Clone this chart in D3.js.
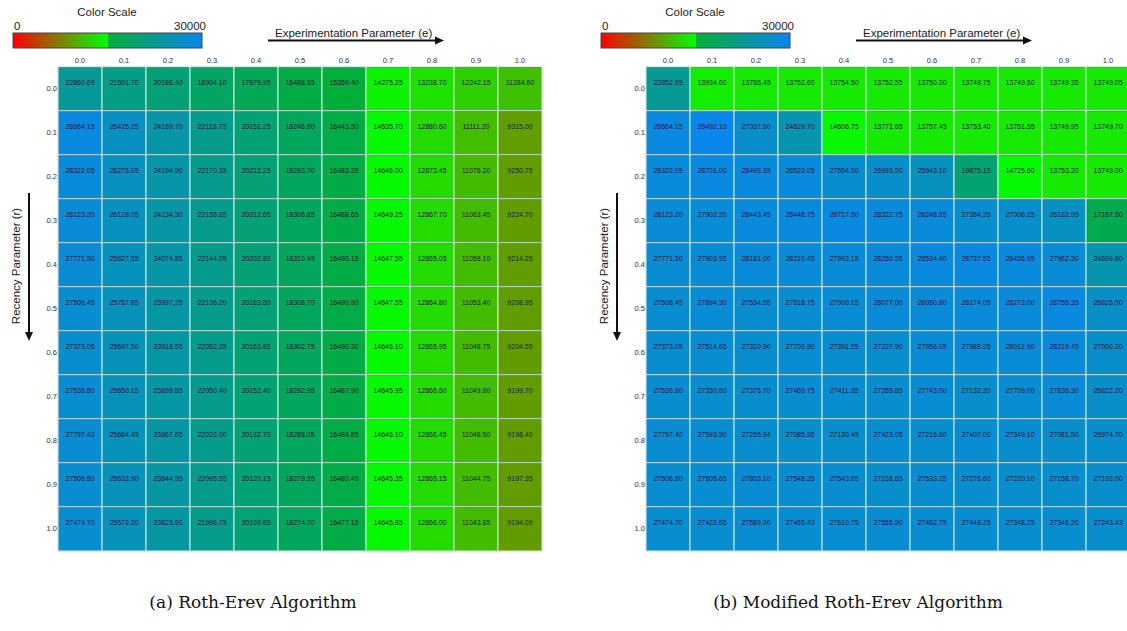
<!DOCTYPE html>
<html>
<head>
<meta charset="utf-8">
<script src="https://cdn.jsdelivr.net/npm/d3@7"></script>
<style>
  body { margin: 0; background: #fff; }
  svg { display: block; font-family: "Liberation Sans", Arial, sans-serif; }
  .axis .domain { display: none; }
</style>
</head>
<body>
<svg id="chart" width="1127" height="631"></svg>
<script>
// experimentation parameter (columns) and recency parameter (rows)
const eLabels = ['0.0', '0.1', '0.2', '0.3', '0.4', '0.5', '0.6', '0.7', '0.8', '0.9', '1.0'];
const rLabels = ['0.0', '0.1', '0.2', '0.3', '0.4', '0.5', '0.6', '0.7', '0.8', '0.9', '1.0'];

// (a) Roth-Erev, one array per row of r
const rothErev = [
  [22860.69, 21501.70, 20186.40, 18904.10, 17679.95, 16488.65, 15359.40, 14275.25, 13238.70, 12242.15, 11284.60],
  [28664.15, 26425.25, 24169.70, 22118.75, 20151.25, 18246.60, 16443.50, 14635.70, 12880.60, 11111.20, 9315.00],
  [28322.05, 26276.05, 24194.90, 22170.35, 20212.25, 18293.70, 16483.35, 14646.00, 12873.45, 11076.20, 9250.75],
  [28123.20, 26129.05, 24134.30, 22155.85, 20212.65, 18306.85, 16488.65, 14649.25, 12867.70, 11063.45, 9224.70],
  [27771.50, 25927.55, 24074.85, 22144.05, 20202.80, 18310.45, 16490.15, 14647.55, 12865.05, 11058.10, 9214.25],
  [27506.45, 25787.85, 23997.25, 22106.20, 20183.80, 18308.70, 16490.80, 14647.55, 12864.80, 11053.40, 9208.95],
  [27373.05, 25697.50, 23918.55, 22052.35, 20163.85, 18302.75, 16490.30, 14646.10, 12865.95, 11048.75, 9204.55],
  [27536.80, 25650.15, 23899.85, 22050.40, 20152.40, 18292.95, 16487.90, 14645.95, 12866.60, 11049.80, 9199.70],
  [27797.40, 25664.45, 23867.65, 22022.00, 20132.70, 18288.05, 16484.85, 14646.10, 12866.45, 11048.50, 9198.40],
  [27506.80, 25633.90, 23844.95, 22095.55, 20120.15, 18279.55, 16480.45, 14645.35, 12865.15, 11044.75, 9197.35],
  [27474.70, 25572.20, 23823.60, 21996.75, 20109.85, 18274.70, 16477.15, 14645.85, 12866.00, 11043.85, 9194.09]
];

// (b) Modified Roth-Erev
const modifiedRothErev = [
  [22852.65, 13934.60, 13786.45, 13762.60, 13754.50, 13752.55, 13750.00, 13749.75, 13749.60, 13749.35, 13749.05],
  [28664.15, 29492.10, 27037.60, 24829.70, 14606.75, 13771.65, 13757.45, 13753.40, 13751.55, 13749.95, 13749.70],
  [28322.05, 28701.00, 28499.35, 28520.05, 27554.50, 26993.50, 25943.10, 19875.15, 14725.60, 13753.20, 13749.00],
  [28123.20, 27902.20, 28443.45, 28448.75, 28717.50, 28322.75, 28248.65, 27364.35, 27006.25, 26182.95, 17167.60],
  [27771.50, 27903.95, 28181.00, 28210.45, 27993.15, 28250.55, 28534.40, 28737.55, 28436.95, 27962.30, 24609.80],
  [27506.45, 27894.30, 27534.55, 27618.75, 27900.15, 28077.00, 28050.80, 28174.05, 28273.00, 28755.35, 26826.00],
  [27373.05, 27514.65, 27310.90, 27700.90, 27391.55, 27227.90, 27956.05, 27988.05, 28012.90, 28219.45, 27000.20],
  [27536.80, 27330.60, 27376.70, 27469.75, 27411.35, 27355.85, 27743.00, 27132.20, 27709.00, 27836.30, 26822.20],
  [27797.40, 27593.90, 27265.94, 27085.95, 27130.45, 27423.05, 27216.60, 27407.00, 27349.10, 27081.50, 26974.70],
  [27506.60, 27605.65, 27803.10, 27548.35, 27543.65, 27238.85, 27533.25, 27276.60, 27220.10, 27158.70, 27103.00],
  [27474.70, 27422.65, 27589.00, 27465.40, 27610.75, 27655.90, 27462.75, 27449.25, 27348.25, 27346.20, 27243.43]
];

const scaleStops = [0, 15000, 15000.01, 30000];
const scaleColors = ['#ff0000', '#00ff00', '#00b034', '#0a86f0'];
const scaleLabels = ['0', '30000'];
const captions = ['(a) Roth-Erev Algorithm', '(b) Modified Roth-Erev Algorithm'];

const color = d3.scaleLinear().domain(scaleStops).range(scaleColors);

const svg = d3.select('#chart');

// gradient for the colour bar
const grad = svg.append('defs').append('linearGradient').attr('id', 'cbar');
grad.selectAll('stop')
  .data(scaleStops)
  .enter()
  .append('stop')
  .attr('offset', d => d / 30000)
  .attr('stop-color', d => color(d));

function drawPanel(values, dx, caption, capX) {
  const g = svg.append('g').attr('transform', `translate(${dx},0)`);

  const x = d3.scaleBand().domain(eLabels).range([58, 542]);
  const y = d3.scaleBand().domain(rLabels).range([67, 551]);

  // colour scale legend
  g.append('text').attr('x', 107).attr('y', 16).attr('text-anchor', 'middle')
    .attr('font-size', 11.5).attr('fill', '#222').text('Color Scale');
  const cb = d3.scaleLinear().domain([0, 30000]).range([13, 202]);
  g.append('rect').attr('x', cb(0)).attr('y', 33).attr('width', cb(30000) - cb(0)).attr('height', 15)
    .attr('fill', 'url(#cbar)').attr('stroke', '#444').attr('stroke-width', 1);
  g.append('text').attr('x', cb(0) + 1).attr('y', 30).attr('font-size', 11.5).attr('fill', '#222').text(scaleLabels[0]);
  g.append('text').attr('x', cb(30000) + 4).attr('y', 30).attr('text-anchor', 'end')
    .attr('font-size', 11.5).attr('fill', '#222').text(scaleLabels[1]);

  // axis titles with arrows
  g.append('text').attr('x', 275).attr('y', 37).attr('font-size', 11.5).attr('fill', '#222')
    .text('Experimentation Parameter (e)');
  g.append('line').attr('x1', 268).attr('x2', 437).attr('y1', 40.5).attr('y2', 40.5)
    .attr('stroke', '#111').attr('stroke-width', 2);
  g.append('path').attr('d', 'M444,40.5 L435,36.5 L435,44.5 Z').attr('fill', '#111');

  g.append('text').attr('transform', 'translate(20,266) rotate(-90)').attr('text-anchor', 'middle')
    .attr('font-size', 11.5).attr('fill', '#222').text('Recency Parameter (r)');
  g.append('line').attr('x1', 29).attr('x2', 29).attr('y1', 193).attr('y2', 333)
    .attr('stroke', '#111').attr('stroke-width', 2);
  g.append('path').attr('d', 'M29,341 L25,332 L33,332 Z').attr('fill', '#111');

  // tick labels
  g.append('g').attr('class', 'axis').attr('transform', 'translate(0,67)')
    .call(d3.axisTop(x).tickSize(0).tickPadding(4))
    .selectAll('text').attr('font-size', 7.5).attr('fill', '#333');
  g.append('g').attr('class', 'axis').attr('transform', 'translate(58,0)')
    .call(d3.axisLeft(y).tickSize(0).tickPadding(1))
    .selectAll('text').attr('font-size', 7.5).attr('fill', '#333');

  // cells
  const cells = values.flatMap((row, i) => row.map((v, j) => ({ r: rLabels[i], e: eLabels[j], v })));
  const cell = g.selectAll('.cell')
    .data(cells)
    .enter()
    .append('g')
    .attr('class', 'cell');

  cell.append('rect')
    .attr('x', d => x(d.e))
    .attr('y', d => y(d.r))
    .attr('width', x.bandwidth())
    .attr('height', y.bandwidth())
    .attr('fill', d => color(d.v))
    .attr('stroke', '#c9dcd6')
    .attr('stroke-width', 1.2);

  // darker top edge on each cell
  cell.append('line')
    .attr('x1', d => x(d.e) + 1)
    .attr('x2', d => x(d.e) + x.bandwidth() - 1)
    .attr('y1', d => y(d.r) + 0.5)
    .attr('y2', d => y(d.r) + 0.5)
    .attr('stroke', '#3a4a48')
    .attr('stroke-opacity', 0.45)
    .attr('stroke-width', 1);

  cell.append('text')
    .attr('x', d => x(d.e) + x.bandwidth() / 2)
    .attr('y', d => y(d.r) + 17.5)
    .attr('text-anchor', 'middle')
    .attr('font-size', 7)
    .attr('fill', '#1c1c30')
    .text(d => d3.format('.2f')(d.v));

  // caption
  svg.append('text')
    .attr('x', capX)
    .attr('y', 608)
    .attr('text-anchor', 'middle')
    .attr('font-family', '"DejaVu Serif", "Liberation Serif", serif')
    .attr('font-size', 17)
    .attr('fill', '#111')
    .text(caption);
}

drawPanel(rothErev, 0, captions[0], 253);
drawPanel(modifiedRothErev, 588, captions[1], 858);
</script>
</body>
</html>
